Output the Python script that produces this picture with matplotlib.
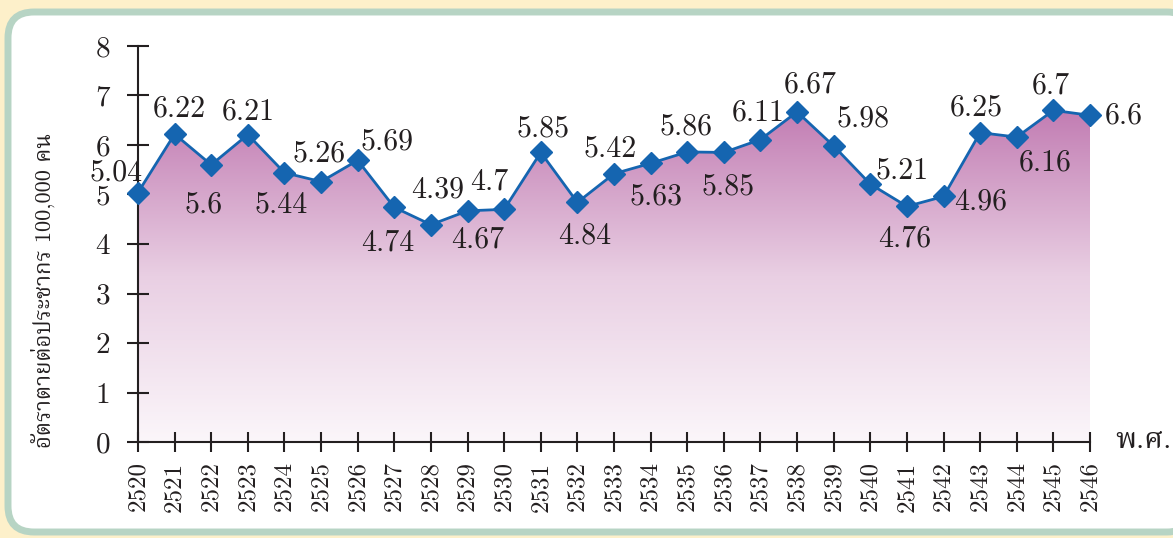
import matplotlib
matplotlib.use('Agg')
import matplotlib.pyplot as plt
import numpy as np
from matplotlib.patches import FancyBboxPatch
from matplotlib.colors import LinearSegmentedColormap
from matplotlib.transforms import IdentityTransform

# death rate per 100,000 population, by Buddhist-era year
years = list(range(2520, 2547))
rates = [5.04, 6.22, 5.6, 6.21, 5.44, 5.26, 5.69, 4.74, 4.39, 4.67, 4.7,
         5.85, 4.84, 5.42, 5.63, 5.86, 5.85, 6.11, 6.67, 5.98, 5.21, 4.76,
         4.96, 6.25, 6.16, 6.7, 6.6]
y_ticks = list(range(0, 9))
y_title = 'อัตราตายต่อประชากร 100,000 คน'
x_title = 'พ.ศ.'

# where each value label sits relative to its marker (pixels, x right / y up)
label_offsets = [(-22, 20), (5, 25), (-8, -40), (0, 23), (-3, -32), (-2, 28),
                 (29, 19), (-7, -35), (7, 35), (10, -29), (-15, 28), (2, 24),
                 (7, -33), (-4, 25), (5, -33), (-1, 25), (4, -34), (-2, 27),
                 (13, 27), (29, 27), (32, 13), (-2, -32), (37, -5), (-4, 25),
                 (28, -26), (-3, 25), (34, 0)]

num_font = 'cmr10'
thai_font = ['cmr10', 'Noto Serif Thai', 'Noto Sans Thai Looped', 'Sarabun']
ink = '#231F20'
blue = '#1565B0'

fig = plt.figure(figsize=(11.73, 5.38), dpi=100)
fig.patch.set_facecolor('#FDF0CA')

# rounded white panel with a pale green frame
panel = FancyBboxPatch((8, 6), 1185, 520, boxstyle='round,pad=0,rounding_size=26',
                       transform=IdentityTransform(), facecolor='white',
                       edgecolor='#B7D4C4', linewidth=5, zorder=-5)
fig.patches.append(panel)

ax = fig.add_axes([138 / 1173, 96 / 538, 952 / 1173, 396 / 538])
ax.set_facecolor('none')

# gradient fill under the line
cmap = LinearSegmentedColormap.from_list('fade', ['#FBF6FA', '#E9CFE3', '#C27DB3'])
poly = ax.fill_between(years, rates, 0, facecolor='none', edgecolor='none')
grad = np.linspace(0, 1, 256).reshape(-1, 1)
img = ax.imshow(grad, cmap=cmap, origin='lower', aspect='auto',
                extent=[years[0], years[-1], 0, max(rates)], zorder=1)
img.set_clip_path(poly.get_paths()[0], ax.transData)

ax.plot(years, rates, color=blue, lw=2, marker='D', ms=11,
        mfc=blue, mec=blue, zorder=3, clip_on=False)

for x, v, (dx, dy) in zip(years, rates, label_offsets):
    ax.annotate(str(v), (x, v), xytext=(dx, dy), textcoords='offset pixels',
                ha='center', va='center', fontfamily=num_font, fontsize=21.5,
                color=ink, zorder=4)

ax.set_xlim(years[0], years[-1])
ax.set_ylim(0, 8)
for side in ['top', 'right']:
    ax.spines[side].set_visible(False)
for side in ['left', 'bottom']:
    ax.spines[side].set_color(ink)
    ax.spines[side].set_linewidth(1.5)
    ax.spines[side].set_zorder(2)

ax.set_yticks(y_ticks)
ax.set_yticklabels([str(t) for t in y_ticks], fontfamily=num_font, fontsize=21)
ax.set_xticks(years)
ax.set_xticklabels([str(y) for y in years], fontfamily=num_font, fontsize=18,
                   rotation=90)
ax.tick_params(axis='y', direction='inout', length=16, width=1.5, color=ink,
               pad=12, labelcolor=ink)
ax.tick_params(axis='x', direction='inout', length=14, width=1.5, color=ink,
               pad=7, labelcolor=ink)

fig.text(43 / 1173, 248 / 538, y_title, rotation=90, ha='center', va='center',
         fontfamily=thai_font, fontsize=16, color=ink)
fig.text(1143 / 1173, 97 / 538, x_title, ha='center', va='center',
         fontfamily=thai_font, fontsize=21, color=ink)

fig.savefig('out.png', dpi=100, facecolor=fig.get_facecolor())
